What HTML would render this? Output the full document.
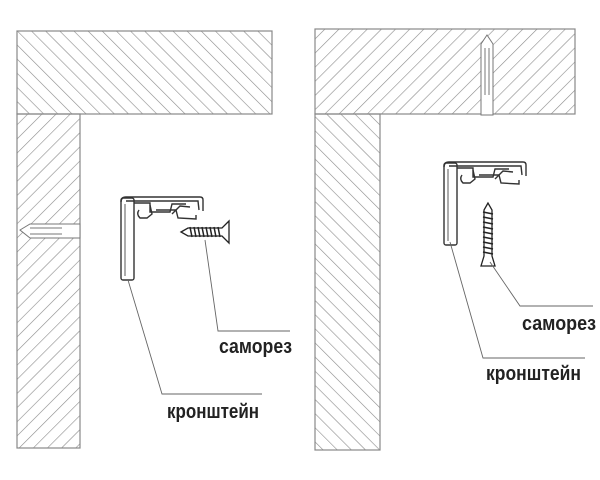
<!DOCTYPE html>
<html><head><meta charset="utf-8"><style>
html,body{margin:0;padding:0;background:#fff;width:600px;height:480px;overflow:hidden}
text{font-family:"Liberation Sans",sans-serif;font-size:20px;font-weight:bold;fill:#222}
</style></head><body>
<svg width="600" height="480" viewBox="0 0 600 480" xmlns="http://www.w3.org/2000/svg">
<defs>
<pattern id="hA" width="10" height="10" patternUnits="userSpaceOnUse" patternTransform="rotate(45)">
<line x1="0" y1="0" x2="0" y2="10" stroke="#8a8a8a" stroke-width="1.2"/></pattern>
<pattern id="hB" width="10" height="10" patternUnits="userSpaceOnUse" patternTransform="rotate(-45)">
<line x1="0" y1="0" x2="0" y2="10" stroke="#8a8a8a" stroke-width="1.2"/></pattern>
<g id="br" fill="none" stroke="#333" stroke-width="1.4">
<rect x="121" y="198" width="13" height="82" rx="2" fill="#fff"/>
<line x1="125" y1="204" x2="125" y2="276" stroke="#888"/>
<path d="M121 202 Q121 197 126 197 L200 197 Q203 197 203 200 L203 211" />
<path d="M126 201 L198 201 L199 210"/>
<path d="M134 203 L150 203 L150 212 L170 212 L172 204 L186 204"/>
<path d="M150 205 L152 214 L147 218 L140 218 Q136 214 139 210"/>
<path d="M156 210 L176 210 L178 218 L196 219 L196 215"/>
<path d="M172 214 L180 206 L190 207"/>
</g>
<g id="scH" fill="none" stroke="#222" stroke-width="1.3">
<path d="M181 232 L188 228 L222 228 L229 221 L229 243 L222 236 L188 236 Z" fill="#fff"/>
<path d="M190 227 l2 10 M194 227 l2 10 M198 227 l2 10 M202 227 l2 10 M206 227 l2 10 M210 227 l2 10 M214 227 l2 10 M218 227 l2 10" stroke-width="1.5"/>
</g>
</defs>

<!-- left -->
<rect x="17" y="31" width="255" height="83" fill="url(#hB)" stroke="#888" stroke-width="1.2"/>
<rect x="17" y="114" width="63" height="334" fill="url(#hA)" stroke="#888" stroke-width="1.2"/>
<g fill="#fff" stroke="#777" stroke-width="1">
<path d="M20 230 L30 224 L80 224 L80 238 L30 238 Z"/>
<line x1="30" y1="228" x2="62" y2="228"/><line x1="30" y1="234" x2="62" y2="234"/>
</g>
<use href="#br"/>
<use href="#scH"/>
<g fill="none" stroke="#666" stroke-width="0.9">
<polyline points="128,280 162,394 262,394"/>
<polyline points="205,240 218,331 290,331"/>
</g>
<text x="167" y="418" textLength="92" lengthAdjust="spacingAndGlyphs">кронштейн</text>
<text x="219" y="353" textLength="73" lengthAdjust="spacingAndGlyphs">саморез</text>

<!-- right -->
<rect x="315" y="29" width="260" height="85" fill="url(#hA)" stroke="#888" stroke-width="1.2"/>
<rect x="315" y="114" width="65" height="336" fill="url(#hB)" stroke="#888" stroke-width="1.2"/>
<g fill="#fff" stroke="#777" stroke-width="1">
<path d="M481 115 L481 44 L487 35 L493 44 L493 115 Z"/>
<line x1="485" y1="48" x2="485" y2="95"/><line x1="489" y1="48" x2="489" y2="95"/>
</g>
<use href="#br" transform="translate(323,-35)"/>
<g fill="none" stroke="#222" stroke-width="1.3">
<path d="M488 203 L484 210 L484 256 L481 266 L495 266 L492 256 L492 210 Z" fill="#fff"/>
<path d="M483 212 l10 2 M483 217 l10 2 M483 222 l10 2 M483 227 l10 2 M483 232 l10 2 M483 237 l10 2 M483 242 l10 2 M483 247 l10 2 M483 252 l10 2" stroke-width="1.6"/>
</g>
<g fill="none" stroke="#666" stroke-width="0.9">
<polyline points="450,242 483,358 585,358"/>
<polyline points="490,262 520,306 593,306"/>
</g>
<text x="486" y="380" textLength="95" lengthAdjust="spacingAndGlyphs">кронштейн</text>
<text x="522" y="330" textLength="74" lengthAdjust="spacingAndGlyphs">саморез</text>
</svg>
</body></html>
